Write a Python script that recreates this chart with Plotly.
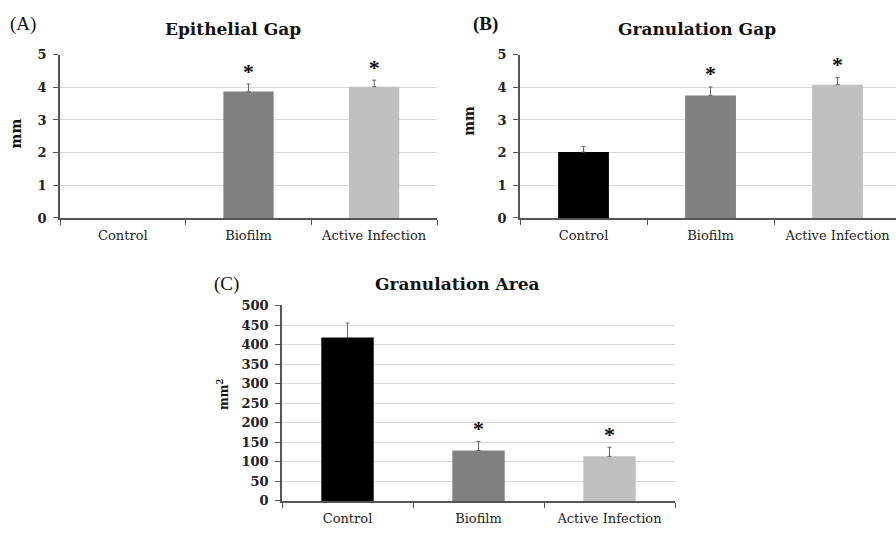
import plotly.graph_objects as go

categories = ["Control", "Biofilm", "Active Infection"]
colors = ["#000000", "#808080", "#bfbfbf"]

epi_vals = [0, 3.87, 4.02]
epi_err = [0, 0.23, 0.2]
epi_sig = [False, True, True]

gran_vals = [2.02, 3.75, 4.08]
gran_err = [0.17, 0.26, 0.22]
gran_sig = [False, True, True]

area_vals = [418, 129, 114]
area_err = [37, 23, 23]
area_sig = [False, True, True]

SERIF = "DejaVu Serif"
LIB = "Liberation Serif"

fig = go.Figure()

panels = [
    ("x", "y", epi_vals, epi_err, epi_sig),
    ("x2", "y2", gran_vals, gran_err, gran_sig),
    ("x3", "y3", area_vals, area_err, area_sig),
]

for xa, ya, vals, errs, sig in panels:
    # bars
    fig.add_trace(go.Bar(
        x=categories, y=vals, xaxis=xa, yaxis=ya,
        marker=dict(color=colors, line=dict(width=0)),
        width=0.4, showlegend=False, hoverinfo="skip",
    ))
    # upper error bars only where there is an error value
    ex = [c for c, e in zip(categories, errs) if e > 0]
    ev = [v for v, e in zip(vals, errs) if e > 0]
    ee = [e for e in errs if e > 0]
    fig.add_trace(go.Scatter(
        x=ex, y=ev, xaxis=xa, yaxis=ya, mode="markers",
        marker=dict(size=1, opacity=0),
        error_y=dict(type="data", symmetric=False, array=ee,
                     arrayminus=[0] * len(ee), color="#666666",
                     thickness=1, width=2),
        showlegend=False, hoverinfo="skip",
    ))
    sx = [c for c, s in zip(categories, sig) if s]
    sy = [v + e for v, e, s in zip(vals, errs, sig) if s]
    fig.add_trace(go.Scatter(
        x=sx, y=sy, xaxis=xa, yaxis=ya, mode="text", text=["*"] * len(sx),
        textposition="top center",
        textfont=dict(family=LIB, size=22, color="#111111", weight="bold"),
        showlegend=False, hoverinfo="skip", cliponaxis=False,
    ))

W, H = 896, 540


def px(x):
    return x / W


def py(y):
    return 1 - y / H


xcommon = dict(
    type="category", showgrid=False, showline=True, linecolor="#555555",
    linewidth=1.5, ticks="outside", tickson="boundaries", ticklen=5,
    tickcolor="#555555", tickfont=dict(family=SERIF, size=13, color="#222222"),
    ticklabelstandoff=5, zeroline=False, fixedrange=True,
)
ycommon = dict(
    showgrid=True, gridcolor="#d9d9d9", gridwidth=1, showline=True,
    linecolor="#555555", linewidth=1.5, ticks="outside", ticklen=5,
    tickcolor="#555555", zeroline=False, ticklabelstandoff=4,
    tickfont=dict(family=SERIF, size=13, color="#222222", weight="bold"),
)

fig.update_layout(
    width=W, height=H, margin=dict(l=0, r=0, t=0, b=0),
    paper_bgcolor="white", plot_bgcolor="white", bargap=0.6,
    xaxis=dict(domain=[px(60), px(437)], anchor="y", range=[-0.5, 2.5], **xcommon),
    yaxis=dict(domain=[py(217), py(49)], anchor="x", range=[0, 5], dtick=1, **ycommon),
    xaxis2=dict(domain=[px(520), 1.0], anchor="y2", range=[-0.5, 2.46], **xcommon),
    yaxis2=dict(domain=[py(217), py(49)], anchor="x2", range=[0, 5], dtick=1, **ycommon),
    xaxis3=dict(domain=[px(282), px(675)], anchor="y3", range=[-0.5, 2.5], **xcommon),
    yaxis3=dict(domain=[py(508), py(307)], anchor="x3", range=[0, 500], dtick=50, **ycommon),
)

ann = [
    ("(A)", 8, 17, 19, "normal", "left", LIB),
    ("(B)", 471, 17, 19, "bold", "left", LIB),
    ("(C)", 212, 285, 19, "normal", "left", LIB),
    ("Epithelial Gap", 233, 23, 17, "bold", "center", SERIF),
    ("Granulation Gap", 697, 23, 17, "bold", "center", SERIF),
    ("Granulation Area", 457, 285, 17, "bold", "center", SERIF),
]
for text, x, y, size, weight, xanchor, fam in ann:
    fig.add_annotation(
        text=text, x=px(x), y=py(y), xref="paper", yref="paper",
        xanchor=xanchor, yanchor="middle", showarrow=False,
        font=dict(family=fam, size=size, color="#111111", weight=weight),
    )

ytitles = [("mm", 16, 130, 14), ("mm", 469, 117, 14), ("mm<sup>2</sup>", 223, 399, 12)]
for text, x, y, size in ytitles:
    fig.add_annotation(
        text=text, x=px(x), y=py(y), xref="paper", yref="paper",
        xanchor="center", yanchor="middle", showarrow=False, textangle=-90,
        font=dict(family=SERIF, size=size, color="#111111", weight="bold"),
    )

fig.write_html("out.html")
